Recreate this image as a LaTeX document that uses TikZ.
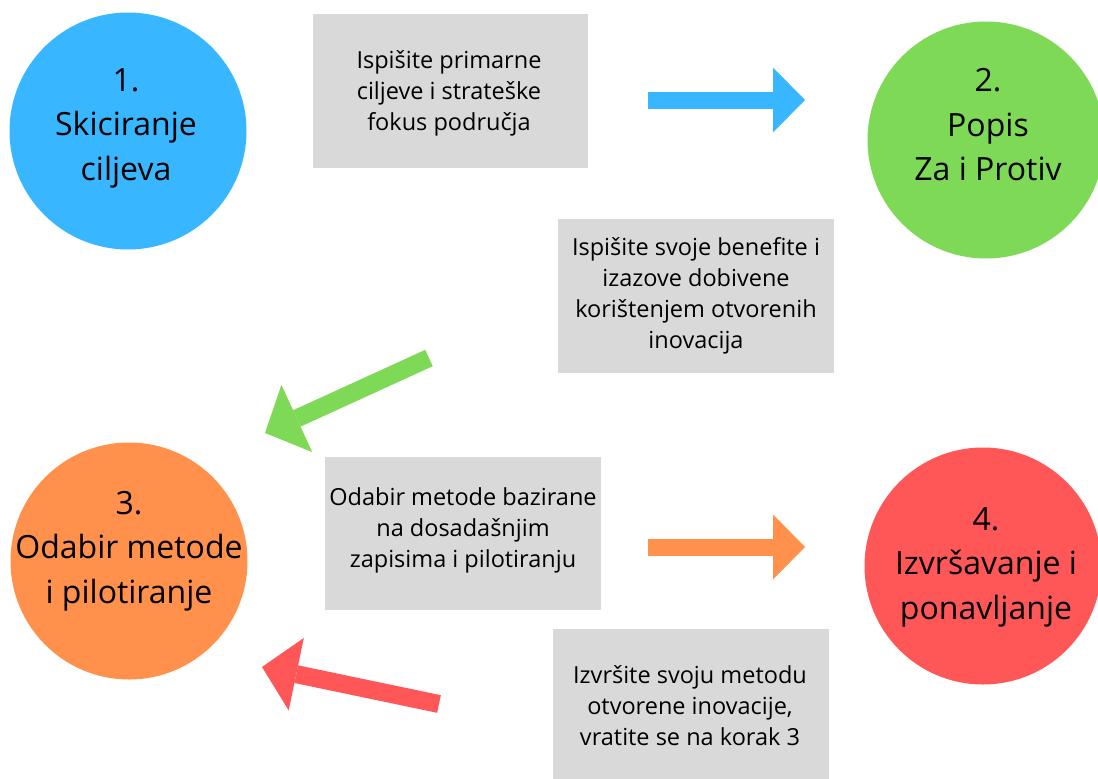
\documentclass[tikz,border=0pt]{standalone}
\usepackage{fontspec}
\setmainfont{Open Sans}
\usetikzlibrary{arrows.meta}
\definecolor{cblue}{HTML}{38B6FF}
\definecolor{cgreen}{HTML}{7ED957}
\definecolor{corange}{HTML}{FF914D}
\definecolor{cred}{HTML}{FF5757}
\definecolor{cgray}{HTML}{D9D9D9}
\tikzset{
  stepcircle/.style={circle, minimum size=237pt, inner sep=0pt, draw=none},
  circletext/.style={align=center, font=\fontsize{32}{44.5}\selectfont, text=black},
  notebox/.style={fill=cgray, draw=none},
  notetext/.style={align=center, font=\fontsize{23.5}{31}\selectfont, text=black},
  bigarrow/.style={line width=18pt, line cap=butt, -{Triangle[length=35pt,width=74pt,line width=0pt]}},
  flatarrow/.style={line width=17pt, line cap=butt, -{Triangle[length=32pt,width=65pt,line width=0pt]}}
}
\begin{document}
\begin{tikzpicture}[x=1pt,y=-1pt]
\useasboundingbox (0,0) rectangle (1098,779);
\fill[white] (0,0) rectangle (1098,779);
% circles
\node[stepcircle, fill=cblue] (c1) at (128,131) {};
\node[stepcircle, fill=cgreen] (c2) at (986,140) {};
\node[stepcircle, fill=corange] (c3) at (129,561) {};
\node[stepcircle, fill=cred] (c4) at (983,566) {};
\node[circletext] (t1) at (126,128) {1.\\Skiciranje\\ciljeva};
\node[circletext] (t2) at (988,125) {2.\\Popis\\Za i Protiv};
\node[circletext] (t3) at (129,551) {3.\\Odabir metode\\i pilotiranje};
\node[circletext] (t4) at (986,567) {4.\\Izvršavanje i\\ponavljanje};
% boxes
\fill[notebox] (313,14) rectangle (588,168);
\fill[notebox] (558,219) rectangle (834,373);
\fill[notebox] (325,457) rectangle (601,610);
\fill[notebox] (553,629) rectangle (829,779);
\node[notetext] (b1) at (449,93) {Ispišite primarne\\ciljeve i strateške\\fokus područja};
\node[notetext] (b2) at (696,296) {Ispišite svoje benefite i\\izazove dobivene\\korištenjem otvorenih\\inovacija};
\node[notetext] (b3) at (463,530) {Odabir metode bazirane\\na dosadašnjim\\zapisima i pilotiranju};
\node[notetext] (b4) at (690,706) {Izvršite svoju metodu\\otvorene inovacije,\\vratite se na korak 3};
% arrows
\coordinate (a1s) at (648,100);
\coordinate (a1e) at (805,100);
\coordinate (a2s) at (429,358);
\coordinate (a2e) at (265,433);
\coordinate (a3s) at (648,547);
\coordinate (a3e) at (805,547);
\coordinate (a4s) at (439,704);
\coordinate (a4e) at (262,667);
\draw[flatarrow, cblue] (a1s) -- (a1e);
\draw[bigarrow, cgreen] (a2s) -- (a2e);
\draw[flatarrow, corange] (a3s) -- (a3e);
\draw[bigarrow, cred] (a4s) -- (a4e);
\end{tikzpicture}
\end{document}
